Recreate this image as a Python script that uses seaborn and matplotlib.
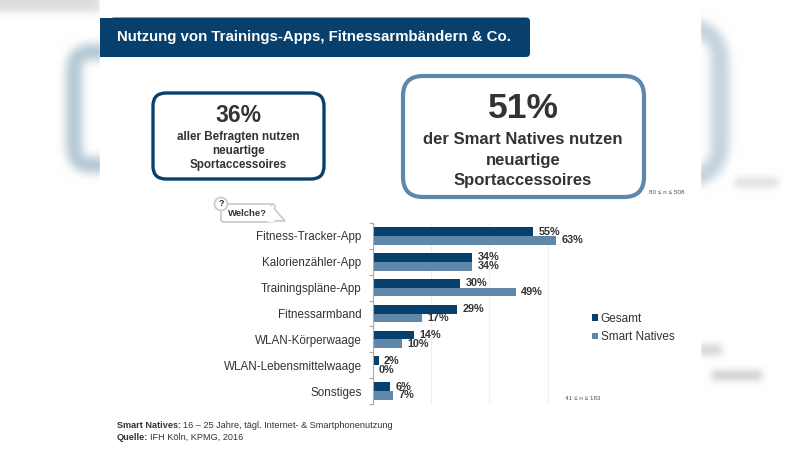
import numpy as np
import pandas as pd
import seaborn as sns
import matplotlib.pyplot as plt
from matplotlib.patches import FancyBboxPatch, Rectangle, Circle, Polygon

categories = ['Fitness-Tracker-App', 'Kalorienzähler-App', 'Trainingspläne-App', 'Fitnessarmband',
              'WLAN-Körperwaage', 'WLAN-Lebensmittelwaage', 'Sonstiges']
gesamt = [55, 34, 30, 29, 14, 2, 6]
smart_natives = [63, 34, 49, 17, 10, 0, 7]
series_names = ['Gesamt', 'Smart Natives']
x_ticks = [0, 20, 40, 60, 80]

dark = '#07406c'
light = '#5f87aa'
text_col = '#333333'

df = pd.DataFrame({'Kategorie': categories, series_names[0]: gesamt, series_names[1]: smart_natives})
df = df.melt(id_vars='Kategorie', var_name='Gruppe', value_name='Anteil')

sns.set_theme(style='white')
plt.rcParams['font.family'] = ['Liberation Sans', 'DejaVu Sans']

fig = plt.figure(figsize=(8, 4.5), dpi=100, facecolor='white')

# background layer in pixel coordinates
bg = fig.add_axes([0, 0, 1, 1])
bg.set_xlim(0, 800)
bg.set_ylim(450, 0)
bg.axis('off')


def blur(img, size, passes=3):
    # repeated box blur, edges padded so the border stays clean
    kernel = np.ones(size) / size
    pad = size // 2
    for axis in (0, 1):
        for _ in range(passes):
            img = np.apply_along_axis(
                lambda r: np.convolve(np.pad(r, pad, mode='edge'), kernel, mode='valid'), axis, img)
    return img


def rounded_ring(x0, x1, y0, y1, radius, thick):
    # stroke of a rounded box, as a mask on the 800x450 canvas
    yy, xx = np.mgrid[0:450, 0:800]
    cx, cy = (x0 + x1) / 2, (y0 + y1) / 2
    dx = np.maximum(np.abs(xx - cx) - ((x1 - x0) / 2 - radius), 0)
    dy = np.maximum(np.abs(yy - cy) - ((y1 - y0) / 2 - radius), 0)
    dist = np.hypot(dx, dy) - radius
    return (dist <= 0) & (dist >= -thick)


# blurred copy of the slide behind the side strips
blue = np.zeros((450, 800))
blue[rounded_ring(66, 400, 44, 172, 22, 15)] = 0.3
blue[rounded_ring(400, 728, 18, 186, 40, 17)] = 0.24
blue = blur(blue, 9)
grey = np.zeros((450, 800))
grey[0:12, 0:100] = 0.13
grey[178:187, 735:778] = 0.13
grey[345:355, 698:722] = 0.17
grey[371:380, 712:762] = 0.2
grey = blur(grey, 7)
rgb = np.dstack([1 - blue - grey, 1 - blue * 0.74 - grey, 1 - blue * 0.56 - grey]).clip(0, 1)
bg.imshow(rgb, extent=(0, 800, 450, 0), aspect='auto', zorder=0)
bg.add_patch(Rectangle((100, 0), 600, 450, color='white', zorder=1))

# title banner, square on the left and rounded on the right
bg.add_patch(FancyBboxPatch((110, 17.5), 420, 39.5, boxstyle='round,pad=0,rounding_size=4', fc=dark, ec='none', zorder=2))
bg.add_patch(Rectangle((100, 17.5), 30, 39.5, fc=dark, ec='none', zorder=2))
bg.text(117, 37.5, 'Nutzung von Trainings-Apps, Fitnessarmbändern & Co.', color='white', fontsize=10.8,
        fontweight='bold', va='center', ha='left', zorder=3)

# the two headline boxes
bg.add_patch(FancyBboxPatch((153, 93), 171, 86, boxstyle='round,pad=0,rounding_size=13', fc='white', ec=dark, lw=2.4, zorder=2))
bg.text(238.5, 116, '36%', color=text_col, fontsize=16.5, fontweight='bold', ha='center', va='center', zorder=3)
for y, line in zip([137, 151, 165], ['aller Befragten nutzen', 'neuartige', 'Sportaccessoires']):
    bg.text(238.5, y, line, color=text_col, fontsize=8.4, fontweight='bold', ha='center', va='center', zorder=3)

bg.add_patch(FancyBboxPatch((403, 76), 241, 121, boxstyle='round,pad=0,rounding_size=20', fc='white', ec=light, lw=3, zorder=2))
bg.text(523, 108, '51%', color=text_col, fontsize=25.5, fontweight='bold', ha='center', va='center', zorder=3)
for y, line in zip([140, 160, 180], ['der Smart Natives nutzen', 'neuartige', 'Sportaccessoires']):
    bg.text(523, y, line, color=text_col, fontsize=12, fontweight='bold', ha='center', va='center', zorder=3)
bg.text(649, 192, '80 ≤ n ≤ 508', color='#555555', fontsize=4.6, ha='left', va='center', zorder=3)

# speech bubble
bg.add_patch(FancyBboxPatch((221, 204), 54, 18, boxstyle='round,pad=0,rounding_size=3', fc='white', ec='#c8c8c8', lw=1.2, zorder=2))
bg.add_patch(Polygon([[271, 205], [285, 221], [270, 221]], fc='white', ec='#c8c8c8', lw=1.2, zorder=2))
bg.add_patch(Rectangle((268, 206), 5, 14.5, color='white', zorder=2))
bg.add_patch(Circle((221, 204), 6.5, fc='white', ec='#c8c8c8', lw=1.2, zorder=2))
bg.text(221, 204, '?', color=text_col, fontsize=6.5, fontweight='bold', ha='center', va='center', zorder=3)
bg.text(247.5, 214, 'Welche?', color=text_col, fontsize=6.8, fontweight='bold', ha='center', va='center', zorder=3)

# footnote
bg.text(117, 426, 'Smart Natives:', color=text_col, fontsize=6.6, fontweight='bold', va='center', zorder=3)
bg.text(183, 426, '16 – 25 Jahre, tägl. Internet- & Smartphonenutzung', color=text_col, fontsize=6.6, va='center', zorder=3)
bg.text(117, 437.5, 'Quelle:', color=text_col, fontsize=6.6, fontweight='bold', va='center', zorder=3)
bg.text(150, 437.5, 'IFH Köln, KPMG, 2016', color=text_col, fontsize=6.6, va='center', zorder=3)

# bar chart
ax = fig.add_axes([372.7 / 800, 1 - 404 / 450, 233.3 / 800, 181 / 450])
ax.patch.set_alpha(0)
sns.barplot(data=df, y='Kategorie', x='Anteil', hue='Gruppe', hue_order=series_names, order=categories,
            palette=[dark, light], width=0.68, gap=0, saturation=1, orient='y', linewidth=0, ax=ax)
ax.set_xlim(x_ticks[0], x_ticks[-1])
ax.set_xticks(x_ticks)
ax.set_xlabel('')
ax.set_ylabel('')
ax.tick_params(axis='x', length=0, labelbottom=False)
ax.xaxis.grid(True, color='#efefef', lw=0.8)
ax.set_axisbelow(True)
for side in ['top', 'right', 'bottom']:
    ax.spines[side].set_visible(False)
ax.spines['left'].set_color('#aaaaaa')
ax.spines['left'].set_linewidth(0.8)

# ticks between the categories, as on the slide
ax.set_yticks(np.arange(-0.5, len(categories)), minor=True)
ax.tick_params(axis='y', which='minor', length=3, color='#aaaaaa', width=0.8, left=True)
ax.tick_params(axis='y', which='major', length=0, pad=8, labelsize=8.35, labelcolor=text_col)

for container in ax.containers:
    ax.bar_label(container, fmt='%g%%', padding=4, fontsize=7.8, fontweight='bold', color=text_col)

handles, labels = ax.get_legend_handles_labels()
ax.get_legend().remove()
fig.legend(handles, labels, loc='upper left', bbox_to_anchor=(592 / 800, 1 - 313 / 450), frameon=False, fontsize=8.5,
           labelcolor=text_col, handlelength=0.5, handleheight=0.5, handletextpad=0.25, labelspacing=0.52,
           borderpad=0, borderaxespad=0)

bg.text(565, 399, '41 ≤ n ≤ 183', color='#555555', fontsize=4.6, ha='left', va='center', zorder=3)

fig.savefig('out.png', dpi=100)
